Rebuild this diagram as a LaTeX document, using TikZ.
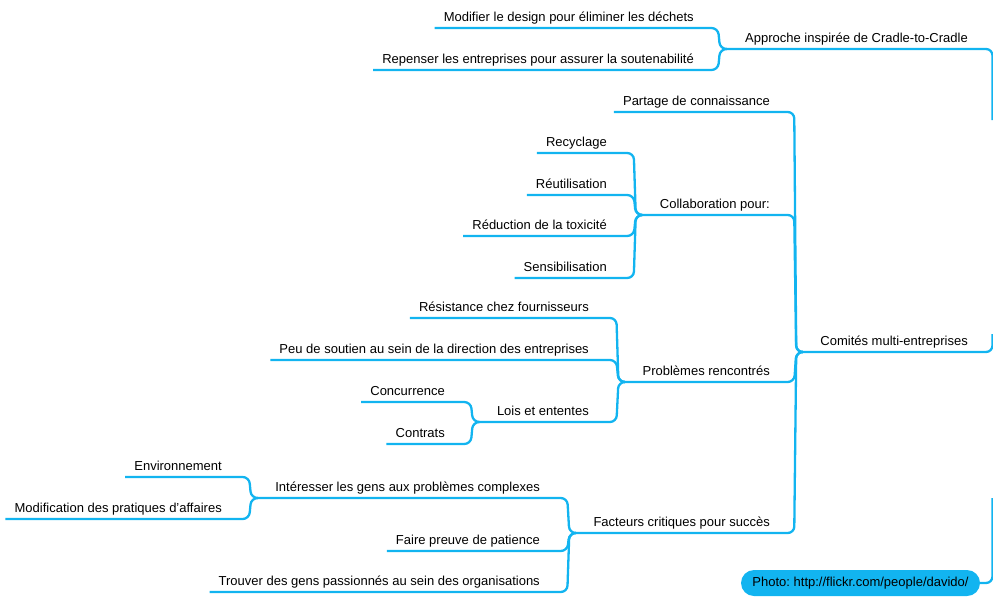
\documentclass[tikz,border=0pt]{standalone}
\usepackage{fontspec}
\setmainfont{Liberation Sans}
\usetikzlibrary{calc}
\definecolor{lineblue}{RGB}{18,180,240}
\frenchspacing
\newcommand\mmlink[2]{\draw[br] let \p1=(#1), \p2=(#2) in (\p1) -- (\x2-8pt,\y1) -- (\x2-6pt,\y2) -- (\p2);}
\begin{document}
\frenchspacing
\begin{tikzpicture}[x=1pt,y=-1pt,
  txt/.style={anchor=base east, inner sep=0pt, font=\fontsize{13pt}{15pt}\selectfont, text=black},
  br/.style={draw=lineblue, line width=2.3pt, rounded corners=6.5pt},
  pill/.style={fill=lineblue, rounded corners=13pt, minimum height=26pt, minimum width=239pt, inner sep=0pt, font=\fontsize{13pt}{15pt}\selectfont, text=black}]
\useasboundingbox (0,0) rectangle (993,597);
\clip (0,0) rectangle (993,597);

% texts
\node[txt] (app) at (968,42) {Approche inspirée de Cradle-to-Cradle};
\node[txt] (mod) at (694,21) {Modifier le design pour éliminer les déchets};
\node[txt] (rep) at (694,63) {Repenser les entreprises pour assurer la soutenabilité};
\node[txt] (com) at (968,345) {Comités multi-entreprises};
\node[txt] (par) at (770,105) {Partage de connaissance};
\node[txt] (col) at (770,208) {Collaboration pour:};
\node[txt] (rec) at (607,146) {Recyclage};
\node[txt] (reu) at (607,188) {Réutilisation};
\node[txt] (red) at (607,229) {Réduction de la toxicité};
\node[txt] (sen) at (607,271) {Sensibilisation};
\node[txt] (pro) at (770,375) {Problèmes rencontrés};
\node[txt] (res) at (589,311) {Résistance chez fournisseurs};
\node[txt] (peu) at (589,353) {Peu de soutien au sein de la direction des entreprises};
\node[txt] (loi) at (589,415) {Lois et ententes};
\node[txt] (conc) at (445,395) {Concurrence};
\node[txt] (cont) at (445,437) {Contrats};
\node[txt] (fac) at (770,526) {Facteurs critiques pour succès};
\node[txt] (int) at (540,491) {Intéresser les gens aux problèmes complexes};
\node[txt] (env) at (222,470) {Environnement};
\node[txt] (mpa) at (222,512) {Modification des pratiques d'affaires};
\node[txt] (pat) at (540,544) {Faire preuve de patience};
\node[txt] (tro) at (540,585) {Trouver des gens passionnés au sein des organisations};
\node[pill] (photo) at (860.5,583) {Photo: http://flickr.com/people/davido/};

% junctions
\coordinate (jApp) at ($(app.base west)+(-19pt,-7pt)$);
\coordinate (jCom) at ($(com.base west)+(-18pt,-7pt)$);
\coordinate (jCol) at ($(col.base west)+(-18pt,-7pt)$);
\coordinate (jPro) at ($(pro.base west)+(-18pt,-7pt)$);
\coordinate (jLoi) at ($(loi.base west)+(-18pt,-7pt)$);
\coordinate (jFac) at ($(fac.base west)+(-18pt,-7pt)$);
\coordinate (jInt) at ($(int.base west)+(-18pt,-7pt)$);

% off-canvas ends (root lies beyond the right edge)
\coordinate (offA) at (992.5,120);
\coordinate (offC) at (992.5,334);
\coordinate (offP) at (992.5,498);

% connectors
\mmlink{$(mod.base west)+(-9pt,-7pt)$}{jApp}
\mmlink{$(rep.base west)+(-9pt,-7pt)$}{jApp}
\mmlink{$(par.base west)+(-9pt,-7pt)$}{jCom}
\mmlink{jCol}{jCom}
\mmlink{jPro}{jCom}
\mmlink{jFac}{jCom}
\mmlink{$(rec.base west)+(-9pt,-7pt)$}{jCol}
\mmlink{$(reu.base west)+(-9pt,-7pt)$}{jCol}
\mmlink{$(red.base west)+(-9pt,-7pt)$}{jCol}
\mmlink{$(sen.base west)+(-9pt,-7pt)$}{jCol}
\mmlink{$(res.base west)+(-9pt,-7pt)$}{jPro}
\mmlink{$(peu.base west)+(-9pt,-7pt)$}{jPro}
\mmlink{jLoi}{jPro}
\mmlink{$(conc.base west)+(-9pt,-7pt)$}{jLoi}
\mmlink{$(cont.base west)+(-9pt,-7pt)$}{jLoi}
\mmlink{jInt}{jFac}
\mmlink{$(pat.base west)+(-9pt,-7pt)$}{jFac}
\mmlink{$(tro.base west)+(-9pt,-7pt)$}{jFac}
\mmlink{$(env.base west)+(-9pt,-7pt)$}{jInt}
\mmlink{$(mpa.base west)+(-9pt,-7pt)$}{jInt}

\draw[br] (jApp) -- (jApp -| offA) -- (offA);
\draw[br] (jCom) -- (jCom -| offC) -- (offC);
\draw[br] (photo.east) -- (photo.east -| offP) -- (offP);
\end{tikzpicture}
\end{document}
